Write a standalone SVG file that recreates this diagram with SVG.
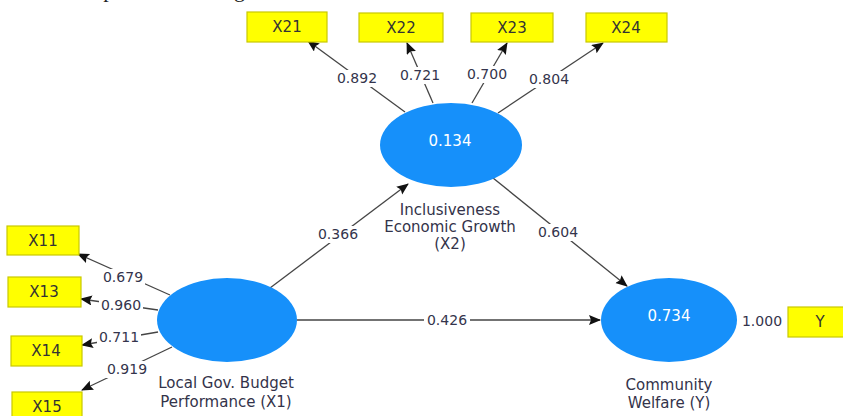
<svg xmlns="http://www.w3.org/2000/svg" width="843" height="416" viewBox="0 0 843 416">
  <style>
    .lv { fill: #1690fa; }
    .ind { fill: #ffff00; stroke: #c9c900; stroke-width: 1.2; }
    .lbl { font-family: "DejaVu Sans", sans-serif; font-size: 15px; fill: #333333; text-anchor: middle; }
    .num { font-family: "DejaVu Sans", sans-serif; font-size: 14px; fill: #34344c; text-anchor: middle; }
    .bg { fill: #ffffff; }
    .r2 { font-family: "DejaVu Sans", sans-serif; font-size: 15px; fill: #ffffff; text-anchor: middle; }
    .name { font-family: "DejaVu Sans", sans-serif; font-size: 15px; fill: #33334a; text-anchor: middle; }
    .edge { stroke: #454545; stroke-width: 1.3; fill: none; marker-end: url(#arrow); }
    .body { font-family: "Liberation Serif", serif; font-size: 22px; fill: #222222; }
  </style>
  <defs>
    <marker id="arrow" markerUnits="userSpaceOnUse" markerWidth="14" markerHeight="12" refX="11" refY="5" orient="auto">
      <path d="M0,0 L12,5 L0,10 L2,5 z" fill="#111111"/>
    </marker>
  </defs>
  <rect width="843" height="416" fill="#ffffff"/>

  <!-- running text line, clipped at the top edge -->
  <text class="body" x="-6" y="-3.5">ral model is presented in Figure 2.</text>

  <!-- connectors -->
  <g id="connectors">
    <!-- outer loadings, X2 -->
    <line class="edge" x1="405" y1="112" x2="308" y2="41"/>
    <line class="edge" x1="433" y1="103" x2="407" y2="43"/>
    <line class="edge" x1="472" y1="103" x2="507" y2="43"/>
    <line class="edge" x1="498" y1="113" x2="603" y2="43"/>
    <!-- outer loadings, X1 -->
    <line class="edge" x1="170" y1="295" x2="78" y2="254"/>
    <line class="edge" x1="158" y1="310" x2="81" y2="299"/>
    <line class="edge" x1="158" y1="332" x2="82" y2="345"/>
    <line class="edge" x1="172" y1="347" x2="82" y2="390"/>
    <!-- paths -->
    <line class="edge" x1="270" y1="288" x2="408" y2="184"/>
    <line class="edge" x1="493" y1="178" x2="627" y2="286"/>
    <line class="edge" x1="297" y1="320" x2="600" y2="320"/>

    <!-- coefficient backgrounds -->
    <rect class="bg" x="335" y="70" width="44" height="17"/>
    <rect class="bg" x="398" y="67" width="44" height="17"/>
    <rect class="bg" x="465" y="66" width="44" height="17"/>
    <rect class="bg" x="527" y="71" width="44" height="17"/>
    <rect class="bg" x="101" y="269" width="44" height="17"/>
    <rect class="bg" x="99" y="297" width="44" height="17"/>
    <rect class="bg" x="97" y="329" width="44" height="17"/>
    <rect class="bg" x="105" y="361" width="44" height="17"/>
    <rect class="bg" x="316" y="226" width="44" height="17"/>
    <rect class="bg" x="536" y="224" width="44" height="17"/>
    <rect class="bg" x="424" y="312" width="46" height="17"/>

    <!-- coefficients -->
    <text class="num" x="357" y="83">0.892</text>
    <text class="num" x="420" y="80">0.721</text>
    <text class="num" x="487" y="79">0.700</text>
    <text class="num" x="549" y="84">0.804</text>
    <text class="num" x="123" y="282">0.679</text>
    <text class="num" x="121" y="310">0.960</text>
    <text class="num" x="119" y="342">0.711</text>
    <text class="num" x="127" y="374">0.919</text>
    <text class="num" x="338" y="239">0.366</text>
    <text class="num" x="558" y="237">0.604</text>
    <text class="num" x="447" y="325">0.426</text>
    <text class="num" x="762" y="326">1.000</text>
  </g>

  <!-- latent variables -->
  <g id="X2">
    <ellipse class="lv" cx="451" cy="145" rx="71" ry="42"/>
    <text class="r2" x="450" y="146">0.134</text>
    <text class="name" x="450" y="215">Inclusiveness</text>
    <text class="name" x="450" y="232">Economic Growth</text>
    <text class="name" x="450" y="249">(X2)</text>
  </g>
  <g id="X1">
    <ellipse class="lv" cx="227" cy="320" rx="70" ry="42"/>
    <text class="name" x="226" y="388">Local Gov. Budget</text>
    <text class="name" x="226" y="407">Performance (X1)</text>
  </g>
  <g id="Y">
    <ellipse class="lv" cx="669" cy="320" rx="68" ry="42"/>
    <text class="r2" x="669" y="321">0.734</text>
    <text class="name" x="669" y="390">Community</text>
    <text class="name" x="669" y="408">Welfare (Y)</text>
  </g>

  <!-- indicators -->
  <g id="X21"><rect class="ind" x="247" y="12" width="80" height="30"/><text class="lbl" x="287" y="32">X21</text></g>
  <g id="X22"><rect class="ind" x="359" y="13" width="84" height="29"/><text class="lbl" x="401" y="33">X22</text></g>
  <g id="X23"><rect class="ind" x="471" y="13" width="82" height="29"/><text class="lbl" x="512" y="33">X23</text></g>
  <g id="X24"><rect class="ind" x="586" y="13" width="81" height="29"/><text class="lbl" x="626" y="33">X24</text></g>
  <g id="X11"><rect class="ind" x="7" y="226" width="72" height="29"/><text class="lbl" x="43" y="246">X11</text></g>
  <g id="X13"><rect class="ind" x="8" y="277" width="73" height="30"/><text class="lbl" x="44" y="297">X13</text></g>
  <g id="X14"><rect class="ind" x="11" y="336" width="71" height="30"/><text class="lbl" x="46" y="356">X14</text></g>
  <g id="X15"><rect class="ind" x="12" y="392" width="70" height="30"/><text class="lbl" x="47" y="412">X15</text></g>
  <g id="Yind"><rect class="ind" x="788" y="307" width="60" height="30"/><text class="lbl" x="820" y="327">Y</text></g>
</svg>
